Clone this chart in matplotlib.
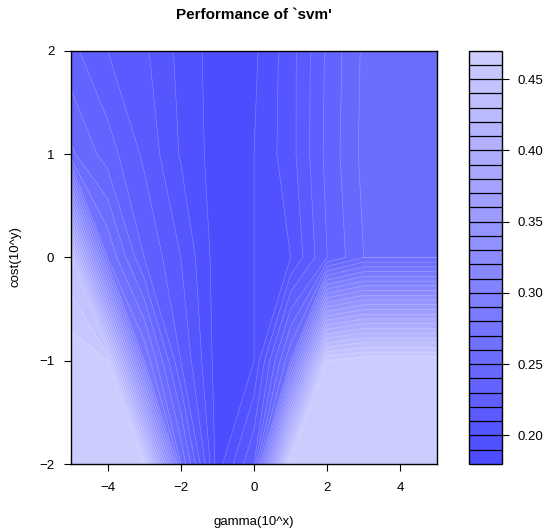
import numpy as np
import matplotlib.pyplot as plt
from matplotlib.colors import ListedColormap, BoundaryNorm

plt.rcParams['font.family'] = ['Liberation Sans', 'DejaVu Sans']

# grid of tuned parameters (log10 scale)
gamma_exp = [-5, -4, -3, -2, -1, 0, 1, 2, 3, 4, 5]
cost_exp = [-2, -1, 0, 1, 2]

# cross-validation error, one row per cost value (bottom to top)
err_cost_m2 = [0.468, 0.468, 0.46, 0.26, 0.185, 0.22, 0.468, 0.468, 0.468, 0.468, 0.468]
err_cost_m1 = [0.468, 0.46, 0.28, 0.22, 0.185, 0.19, 0.26, 0.46, 0.468, 0.468, 0.468]
err_cost_0 = [0.44, 0.27, 0.23, 0.21, 0.185, 0.19, 0.20, 0.23, 0.25, 0.25, 0.25]
err_cost_1 = [0.252, 0.235, 0.218, 0.199, 0.185, 0.19, 0.206, 0.233, 0.253, 0.253, 0.253]
err_cost_2 = [0.233, 0.22, 0.212, 0.197, 0.185, 0.188, 0.206, 0.232, 0.252, 0.252, 0.252]

levels = np.round(np.arange(0.18, 0.4751, 0.01), 2)
cbar_ticks = [0.20, 0.25, 0.30, 0.35, 0.40, 0.45]

z = np.array([err_cost_m2, err_cost_m1, err_cost_0, err_cost_1, err_cost_2])

# hsv palette: hue 2/3, saturation 0.7 -> 0.2
n = len(levels) - 1
sat = np.linspace(0.7, 0.2, n)
cols = [(1 - s, 1 - s, 1.0) for s in sat]
cmap = ListedColormap(cols)
norm = BoundaryNorm(levels, n)

fig = plt.figure(figsize=(5.44, 5.29), dpi=100)
W, H = 544, 529
ax = fig.add_axes([71 / W, 1 - 464 / H, (437 - 71) / W, (464 - 50.7) / H])
cax = fig.add_axes([469 / W, 1 - 464 / H, 33 / W, (464 - 50.7) / H])

cf = ax.contourf(gamma_exp, cost_exp, z, levels=levels, cmap=cmap, norm=norm)
ax.contour(gamma_exp, cost_exp, z, levels=levels, colors='white', linewidths=0.4, alpha=0.3)

ax.set_xlim(-5, 5)
ax.set_ylim(-2, 2)
ax.set_xticks([-4, -2, 0, 2, 4])
ax.set_yticks([-2, -1, 0, 1, 2])
ax.tick_params(direction='out', length=5, width=0.8, labelsize=9.5)
ax.tick_params(axis='x', pad=8)
ax.tick_params(axis='y', pad=7)
for sp in ax.spines.values():
    sp.set_linewidth(1)

cb = fig.colorbar(cf, cax=cax, drawedges=True, ticks=cbar_ticks)
cb.ax.minorticks_off()
cb.outline.set_linewidth(1)
cb.dividers.set_color('black')
cb.dividers.set_linewidth(0.9)
cb.ax.tick_params(direction='out', length=5, width=0.8, labelsize=9.5, pad=6)
cb.ax.set_yticklabels(['%.2f' % t for t in cbar_ticks])

fig.text(254 / W, 1 - 15 / H, "Performance of `svm'", ha='center', va='center',
         fontsize=11, fontweight='bold')
fig.text(254 / W, 1 - 522 / H, 'gamma(10^x)', ha='center', va='center', fontsize=9.5)
fig.text(15 / W, 1 - 257 / H, 'cost(10^y)', ha='center', va='center', fontsize=9.5,
         rotation=90)

fig.savefig('out.png', dpi=100)
